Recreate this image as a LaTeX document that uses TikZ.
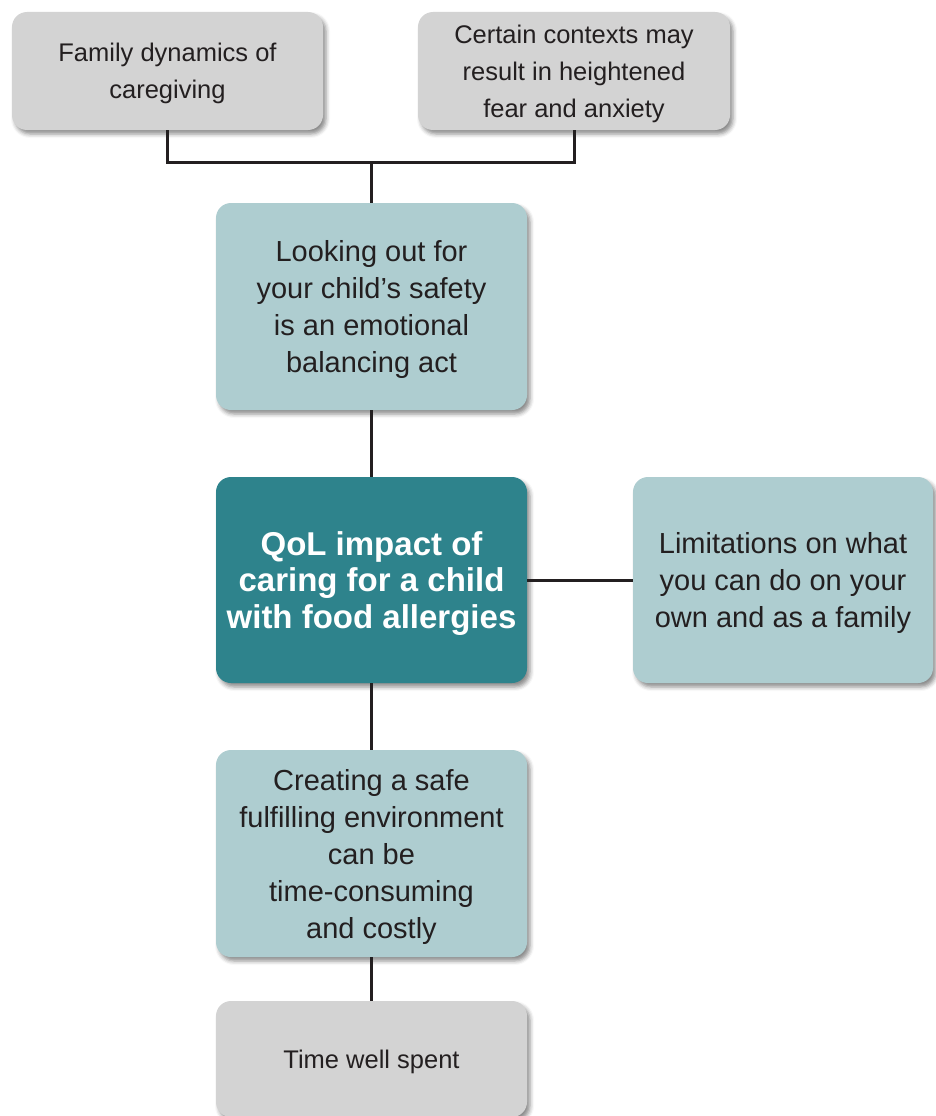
\documentclass[tikz,border=0pt]{standalone}
\usepackage{fontspec}
\setmainfont{Liberation Sans}
\usetikzlibrary{shadows.blur}
\definecolor{boxgray}{HTML}{D3D3D3}
\definecolor{lightteal}{HTML}{AECDD0}
\definecolor{darkteal}{HTML}{2E838C}
\definecolor{txt}{HTML}{231F20}
\begin{document}
\begin{tikzpicture}[x=1pt,y=-1pt,
  box/.style={rectangle, rounded corners=15pt, inner sep=0pt, align=center,
    text=txt, font=\fontsize{25.5}{37}\selectfont,
    blur shadow={shadow xshift=3pt, shadow yshift=-4pt, shadow blur radius=4pt, shadow opacity=45}},
  graybox/.style={box, fill=boxgray, text depth=-0.5pt},
  tealbox/.style={box, fill=lightteal, font=\fontsize{29}{37}\selectfont, text depth=-2pt},
  mainbox/.style={box, fill=darkteal, text=white, font=\fontsize{33}{36.5}\selectfont\bfseries, text depth=-3pt},
  conn/.style={line width=3pt, draw=txt}]
\useasboundingbox (0,0) rectangle (936,1116);
\node[graybox, minimum width=311pt, minimum height=118pt] (fam) at (167.5,71) {Family dynamics of\\caregiving};
\node[graybox, minimum width=312pt, minimum height=118pt] (cert) at (574,71) {Certain contexts may\\result in heightened\\fear and anxiety};
\node[tealbox, minimum width=311pt, minimum height=207pt] (look) at (371.5,306.5) {Looking out for\\your child’s safety\\is an emotional\\balancing act};
\node[mainbox, minimum width=311pt, minimum height=206pt] (qol) at (371.5,580) {QoL impact of\\caring for a child\\with food allergies};
\node[tealbox, minimum width=300pt, minimum height=206pt] (lim) at (783,580) {Limitations on what\\you can do on your\\own and as a family};
\node[tealbox, minimum width=311pt, minimum height=207pt] (create) at (371.5,853.5) {Creating a safe\\fulfilling environment\\can be\\time-consuming\\and costly};
\node[graybox, minimum width=311pt, minimum height=116pt] (time) at (371.5,1059) {Time well spent};
\coordinate (j) at (371.5,162);
\draw[conn] (fam.south) |- (j);
\draw[conn] (cert.south) |- (j);
\draw[conn] (j) -- (look.north);
\draw[conn] (look.south) -- (qol.north);
\draw[conn] (qol.east) -- (lim.west);
\draw[conn] (qol.south) -- (create.north);
\draw[conn] (create.south) -- (time.north);
\end{tikzpicture}
\end{document}
